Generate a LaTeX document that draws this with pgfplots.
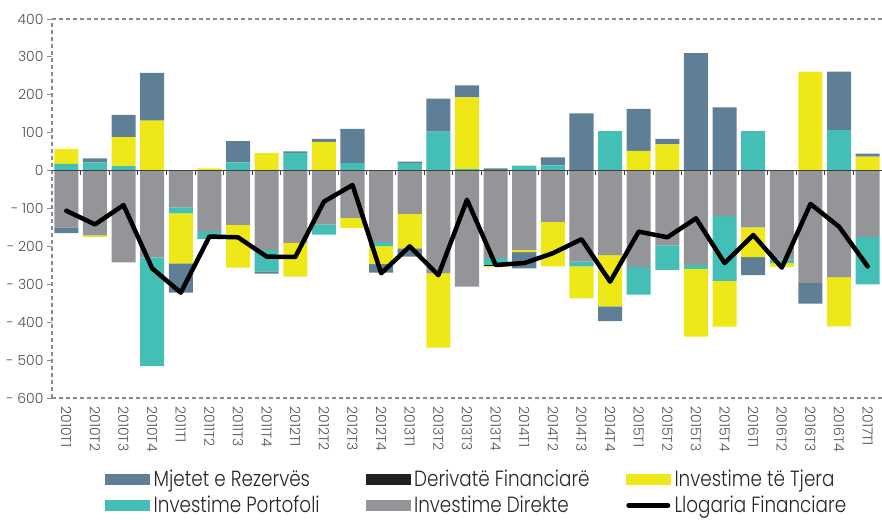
\documentclass[border=0pt]{standalone}
\usepackage{fontspec}
\setmainfont{Poppins}[UprightFont={* Light}]
\newfontfamily\condfont{Poppins}[UprightFont={* Light}, FakeStretch=0.835]
\usepackage{pgfplots}
\usepackage{pgfplotstable}
\pgfplotsset{compat=1.18}

\definecolor{rez}{HTML}{5F7F96}
\definecolor{port}{HTML}{43BFB5}
\definecolor{tjera}{HTML}{EEE818}
\definecolor{dir}{HTML}{939598}
\definecolor{der}{HTML}{231F20}
\definecolor{frame}{HTML}{8A8A8A}
\definecolor{txt}{HTML}{505050}

% legend text: fixed width so the columns line up
\newcommand\legtxt[1]{\makebox[216bp][l]{\condfont\fontsize{22bp}{24bp}\selectfont
  \hspace{4bp}#1}}

% positive parts of each component
\pgfplotstableread{
x port tjera rez
0 18 39 0
1 22 0 10
2 12 76 59
3 0 132 126
4 0 0 0
5 0 6 0
6 22 0 56
7 0 46 0
8 47 0 4
9 0 76 8
10 20 0 90
11 0 0 0
12 20 0 4
13 103 0 87
14 4 189 32
15 0 0 6
16 13 0 0
17 14 0 21
18 0 0 151
19 104 0 0
20 0 52 111
21 0 69 15
22 0 0 310
23 0 0 167
24 104 0 0
25 0 0 0
26 0 261 0
27 107 0 154
28 0 37 8
}\posT

% negative parts of each component
\pgfplotstableread{
x dir port der tjera rez
0 -150 0 0 0 -15
1 -171 0 0 -4 0
2 -242 0 0 0 0
3 -229 -287 0 0 0
4 -97 -16 0 -132 -77
5 -160 -21 0 0 0
6 -143 0 0 -113 0
7 -210 -56 0 0 -6
8 -191 0 0 -89 0
9 -142 -27 0 0 0
10 -125 0 0 -26 0
11 -189 -10 0 -48 -22
12 -114 0 0 -91 -22
13 -271 0 0 -196 0
14 -306 0 0 0 0
15 -231 -18 -2 -4 0
16 -209 0 0 -6 -43
17 -135 0 0 -118 0
18 -240 -13 0 -84 0
19 -223 0 0 -135 -39
20 -254 -73 0 0 0
21 -197 -65 0 0 0
22 -249 -10 0 -179 0
23 -120 -171 0 -121 0
24 -150 0 0 -78 -48
25 -234 -10 0 -10 0
26 -296 0 0 0 -55
27 -281 0 0 -130 0
28 -175 -125 0 0 0
}\negT

% Llogaria Financiare
\pgfplotstableread{
x fin
0 -106
1 -142
2 -91
3 -258
4 -322
5 -174
6 -176
7 -227
8 -228
9 -82
10 -38
11 -271
12 -200
13 -276
14 -77
15 -249
16 -244
17 -218
18 -181
19 -293
20 -161
21 -176
22 -126
23 -244
24 -170
25 -256
26 -88
27 -148
28 -253
}\finT

\pgfplotsset{
  base/.style={scale only axis, width=830bp, height=379bp,
    xmin=-0.5, xmax=28.5, ymin=-600, ymax=400, clip=false},
  barsty/.style={ybar stacked, bar width=0.84},
}

\begin{document}
\begin{tikzpicture}
% positive stacks
\begin{axis}[base, barsty, hide axis]
  \addplot[fill=port, draw=none] table[x=x, y=port] {\posT};
  \addplot[fill=tjera, draw=none] table[x=x, y=tjera] {\posT};
  \addplot[fill=rez, draw=none] table[x=x, y=rez] {\posT};
\end{axis}
% negative stacks, frame, ticks and legend
\begin{axis}[base, barsty,
  axis x line*=box, axis y line*=left,
  axis line style={frame, line width=1.2bp, dash pattern=on 4bp off 3bp, -},
  xtick={0,...,28},
  xticklabels={2010T1,2010T2,2010T3,2010T4,2011T1,2011T2,2011T3,2011T4,
    2012T1,2012T2,2012T3,2012T4,2013T1,2013T2,2013T3,2013T4,
    2014T1,2014T2,2014T3,2014T4,2015T1,2015T2,2015T3,2015T4,
    2016T1,2016T2,2016T3,2016T4,2017T1},
  xticklabel style={rotate=-90, anchor=west, text=txt,
    font=\fontsize{14bp}{16bp}\selectfont},
  xtick style={draw=none},
  ytick={-600,-500,...,400},
  yticklabels={- 600,- 500,- 400,- 300,- 200,- 100,0,100,200,300,400},
  yticklabel style={text=txt, font=\fontsize{14bp}{16bp}\selectfont},
  ytick pos=left, tick align=outside, major tick length=5bp,
  ytick style={frame, line width=1bp},
  legend columns=3,
  legend style={at={(0.064,-0.19)}, anchor=north west, draw=none, fill=none,
    inner sep=0pt, text=black!85, row sep=8bp,
    nodes={inner xsep=0bp, inner ysep=0bp}},
]
  \addplot[fill=dir, draw=none, forget plot] table[x=x, y=dir] {\negT};
  \addplot[fill=port, draw=none, forget plot] table[x=x, y=port] {\negT};
  \addplot[fill=der, draw=none, forget plot] table[x=x, y=der] {\negT};
  \addplot[fill=tjera, draw=none, forget plot] table[x=x, y=tjera] {\negT};
  \addplot[fill=rez, draw=none, forget plot] table[x=x, y=rez] {\negT};
  \coordinate (sw) at (rel axis cs:0,0);
  \coordinate (ne) at (rel axis cs:1,1);
  \addlegendimage{legend image code/.code={\fill[rez] (0bp,-5bp) rectangle (44bp,5bp);}}
  \addlegendentry{\legtxt{Mjetet e Rezervës}}
  \addlegendimage{legend image code/.code={\fill[der] (0bp,-5bp) rectangle (44bp,5bp);}}
  \addlegendentry{\legtxt{Derivatë Financiarë}}
  \addlegendimage{legend image code/.code={\fill[tjera] (0bp,-5bp) rectangle (44bp,5bp);}}
  \addlegendentry{\legtxt{Investime të Tjera}}
  \addlegendimage{legend image code/.code={\fill[port] (0bp,-5bp) rectangle (44bp,5bp);}}
  \addlegendentry{\legtxt{Investime Portofoli}}
  \addlegendimage{legend image code/.code={\fill[dir] (0bp,-5bp) rectangle (44bp,5bp);}}
  \addlegendentry{\legtxt{Investime Direkte}}
  \addlegendimage{legend image code/.code={\draw[black, line width=5bp, line cap=round] (2.5bp,0bp) -- (41.5bp,0bp);}}
  \addlegendentry{\legtxt{Llogaria Financiare}}
\end{axis}
% zero line and the financial account line
\begin{axis}[base, hide axis]
  \draw[black!75, line width=1.2bp] (axis cs:-0.5,0) -- (axis cs:28.5,0);
  \pgfplotsinvokeforeach{0.5,1.5,...,28.5}{
    \draw[black!75, line width=1bp] (axis cs:#1,0) -- ++(0bp,-4bp);
  }
  \addplot[black, line width=4.5bp, line join=round, line cap=round, mark=none]
    table[x=x, y=fin] {\finT};
\end{axis}
\pgfresetboundingbox
\path ([shift={(-52bp,-123bp)}]sw) rectangle ([shift={(0bp,19bp)}]ne);
\end{tikzpicture}
\end{document}
